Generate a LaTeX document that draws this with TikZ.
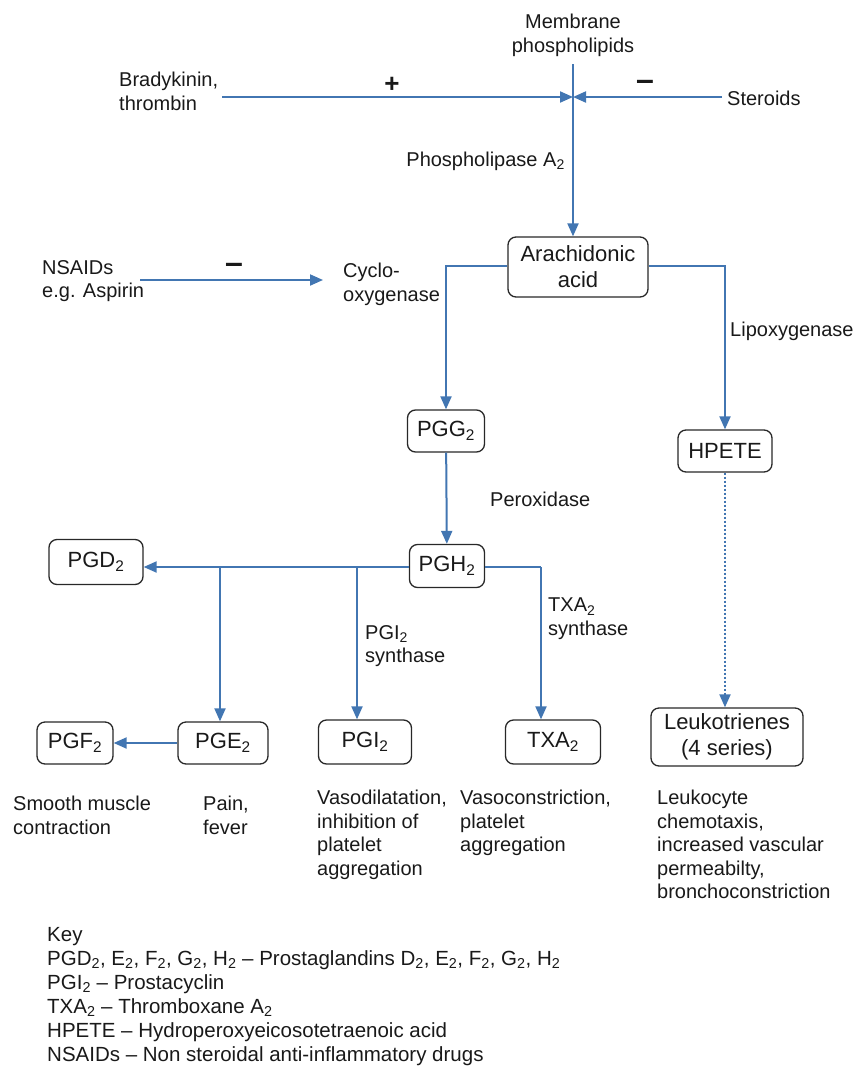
\documentclass[tikz,border=0pt]{standalone}
\usepackage{fontspec}
\setmainfont{Liberation Sans}
\usetikzlibrary{arrows.meta,calc}
\definecolor{flow}{RGB}{66,118,178}
\definecolor{boxline}{RGB}{40,40,40}
\definecolor{txt}{RGB}{25,25,25}
\begin{document}
\begin{tikzpicture}[x=1pt,y=-1pt,
  box/.style={draw=boxline, line width=1.3pt, rounded corners=8pt, align=center,
    font=\fontsize{22}{26}\selectfont, text=txt, inner sep=0pt},
  lbl/.style={font=\fontsize{20}{23.5}\selectfont, text=txt, align=left, inner sep=0pt},
  sign/.style={font=\fontsize{26}{26}\selectfont\bfseries, text=txt, inner sep=0pt},
  minussign/.style={font=\fontsize{32}{32}\selectfont\bfseries, text=txt, inner sep=0pt},
  arr/.style={draw=flow, line width=2pt, -{Triangle[length=13pt,width=11pt]}},
  dotarr/.style={draw=flow, line width=2pt, dotted, -{Triangle[length=13pt,width=11pt]}},
  ln/.style={draw=flow, line width=2pt},
]
\useasboundingbox (0,0) rectangle (858,1087);

% boxes
\node[box, minimum width=140pt, minimum height=60pt] (arach) at (578,267) {Arachidonic\\acid};
\node[box, minimum width=77pt, minimum height=42pt] (pgg) at (446,431) {PGG\textsubscript{2}};
\node[box, minimum width=75pt, minimum height=43pt] (pgh) at (447,566) {PGH\textsubscript{2}};
\node[box, minimum width=94pt, minimum height=42pt] (hpete) at (725,451) {HPETE};
\node[box, minimum width=94pt, minimum height=45pt] (pgd) at (96,562) {PGD\textsubscript{2}};
\node[box, minimum width=76pt, minimum height=42pt] (pgf) at (75,743) {PGF\textsubscript{2}};
\node[box, minimum width=90pt, minimum height=42pt] (pge) at (223,743) {PGE\textsubscript{2}};
\node[box, minimum width=93pt, minimum height=44pt] (pgi) at (365,742) {PGI\textsubscript{2}};
\node[box, minimum width=95pt, minimum height=44pt] (txa) at (553,742) {TXA\textsubscript{2}};
\node[box, minimum width=152pt, minimum height=58pt] (leuko) at (727,737) {Leukotrienes\\(4 series)};

% labels
\node[lbl, anchor=north, align=center] (memb) at (573,14) {Membrane\\phospholipids};
\node[lbl, anchor=north west] (brady) at (119,72) {Bradykinin,\\thrombin};
\node[lbl, anchor=west] (ster) at (727,98) {Steroids};
\node[sign] (plus) at (392,85) {+};
\node[minussign] (minus1) at (645,85) {–};
\node[lbl, anchor=east] (pla) at (565,161) {Phospholipase A\textsubscript{2}};
\node[lbl, anchor=north west] (nsaid) at (42,260) {NSAIDs\\e.g. Aspirin};
\node[minussign] (minus2) at (234,268) {–};
\node[lbl, anchor=north west] (cox) at (343,263) {Cyclo-\\oxygenase};
\node[lbl, anchor=west] (lox) at (730,331) {Lipoxygenase};
\node[lbl, anchor=west] (perox) at (490,499) {Peroxidase};
\node[lbl, anchor=north west] (pgis) at (365,625) {PGI\textsubscript{2}\\synthase};
\node[lbl, anchor=north west] (txas) at (548,598) {TXA\textsubscript{2}\\synthase};

\node[lbl, anchor=north west] (d1) at (13,796) {Smooth muscle\\contraction};
\node[lbl, anchor=north west] (d2) at (203,796) {Pain,\\fever};
\node[lbl, anchor=north west] (d3) at (317,790) {Vasodilatation,\\inhibition of\\platelet\\aggregation};
\node[lbl, anchor=north west] (d4) at (460,790) {Vasoconstriction,\\platelet\\aggregation};
\node[lbl, anchor=north west] (d5) at (657,790) {Leukocyte\\chemotaxis,\\increased vascular\\permeabilty,\\bronchoconstriction};

\node[lbl, anchor=north west, font=\fontsize{20.5}{24}\selectfont] (key) at (47,927) {Key\\
PGD\textsubscript{2}, E\textsubscript{2}, F\textsubscript{2}, G\textsubscript{2}, H\textsubscript{2} – Prostaglandins D\textsubscript{2}, E\textsubscript{2}, F\textsubscript{2}, G\textsubscript{2}, H\textsubscript{2}\\
PGI\textsubscript{2} – Prostacyclin\\
TXA\textsubscript{2} – Thromboxane A\textsubscript{2}\\
HPETE – Hydroperoxyeicosotetraenoic acid\\
NSAIDs – Non steroidal anti-inflammatory drugs};

% coordinates
\coordinate (mtop) at (573,64);
\coordinate (junc) at (573,97);
\coordinate (bl) at (222,97);
\coordinate (sr) at (722,97);
\coordinate (nsa) at (140,280);
\coordinate (coxe) at (323,280);
\coordinate (brE) at (220,567);
\coordinate (brI) at (357,567);
\coordinate (brT) at (541,567);

% connectors
\draw[arr] (mtop) -- (mtop |- arach.north);
\draw[arr] (bl) -- (junc);
\draw[arr] (sr) -- (junc);
\draw[arr] (nsa) -- (coxe);
\draw[arr] (arach.west |- 0,266) -| (pgg.north);
\draw[arr] (arach.east |- 0,266) -| (hpete.north);
\draw[arr] (pgg) -- (pgh);
\draw[arr] (pgh.west |- 0,567) -- (pgd.east |- 0,567);
\draw[arr] (brE) -- (brE |- pge.north);
\draw[arr] (brI) -- (brI |- pgi.north);
\draw[ln] (pgh.east |- 0,567) -- (brT);
\draw[arr] (brT) -- (brT |- txa.north);
\draw[arr] (pge) -- (pgf);
\draw[dotarr] (hpete.south) -- (hpete.south |- leuko.north);
\end{tikzpicture}
\end{document}
